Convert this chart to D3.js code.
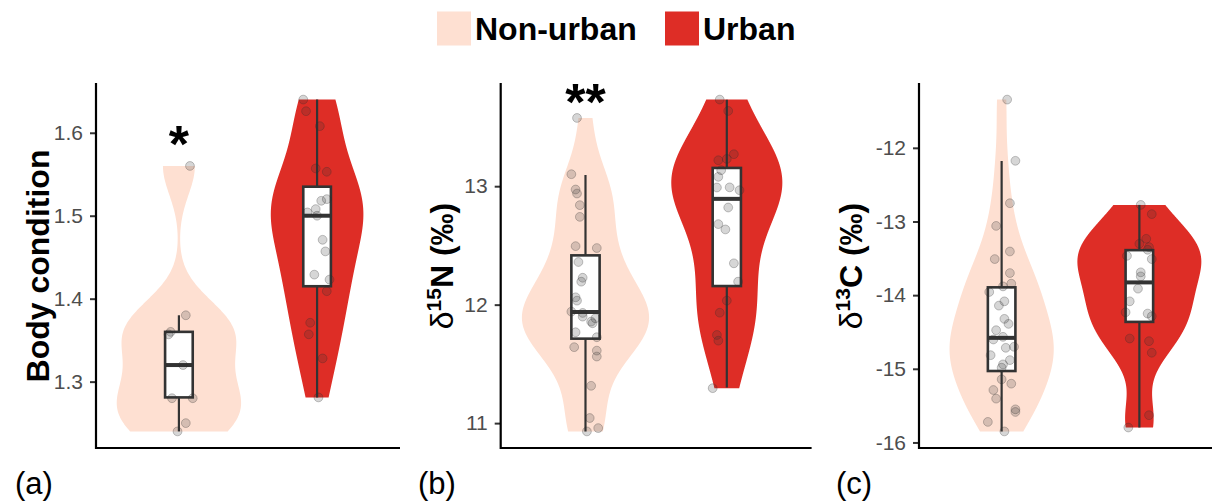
<!DOCTYPE html>
<html>
<head>
<meta charset="utf-8">
<script src="https://cdn.jsdelivr.net/npm/d3@7"></script>
<style>
  body { margin: 0; background: #fff; }
  svg text { font-family: "Liberation Sans", Arial, sans-serif; }
</style>
</head>
<body>
<svg id="chart" width="1212" height="502"></svg>
<script>
const groups = ["Non-urban", "Urban"]
const groupColors = ["#fee0d2", "#de2d26"]

// (a) body condition
const bodyNonUrban = [1.56, 1.38, 1.36, 1.357, 1.32, 1.28, 1.28, 1.25, 1.24]
const bodyNonUrbanJitter = [0.08, 0.05, -0.06, -0.075, 0.03, -0.05, 0.10, 0.05, -0.01]
const bodyUrban = [1.64, 1.626, 1.608, 1.557, 1.553, 1.52, 1.518, 1.508, 1.504, 1.50,
  1.471, 1.457, 1.429, 1.423, 1.409, 1.371, 1.357, 1.328, 1.281]
const bodyUrbanJitter = [-0.10, -0.08, 0.02, -0.01, 0.07, 0.07, 0.03, -0.01, -0.07, 0.0,
  0.04, 0.06, -0.02, 0.09, 0.07, -0.05, -0.06, 0.04, 0.01]
// whisker low, q1, median, q3, whisker high
const bodyBoxNonUrban = [1.24, 1.281, 1.32, 1.36, 1.38]
const bodyBoxUrban = [1.281, 1.415, 1.50, 1.535, 1.64]
const bodyTicks = [1.3, 1.4, 1.5, 1.6]

// (b) delta 15N
const nitroNonUrban = [13.576, 13.101, 12.972, 12.938, 12.84, 12.741, 12.494, 12.478, 12.36, 12.227,
  12.194, 12.062, 12.034, 11.941, 11.93, 11.899, 11.885, 11.857, 11.843, 11.767,
  11.725, 11.641, 11.612, 11.562, 11.315, 11.043, 10.958, 10.93]
const nitroNonUrbanJitter = [-0.06, -0.10, -0.07, -0.06, -0.04, -0.04, -0.07, 0.08, -0.05, -0.02,
  -0.03, -0.07, -0.06, -0.10, -0.02, -0.02, 0.07, 0.04, 0.05, -0.07,
  0.08, -0.08, 0.08, 0.08, 0.04, 0.03, 0.09, 0.01]
const nitroUrban = [13.731, 13.635, 13.27, 13.219, 13.23, 13.135, 13.079, 12.989, 12.99, 12.966,
  12.82, 12.68, 12.635, 12.349, 12.194, 12.034, 11.932, 11.744, 11.696, 11.295]
const nitroUrbanJitter = [-0.05, 0.01, 0.05, -0.06, 0.0, -0.04, -0.06, -0.07, 0.02, 0.09,
  0.01, -0.06, -0.01, 0.05, 0.08, 0.0, -0.05, -0.07, -0.06, -0.10]
const nitroBoxNonUrban = [10.93, 11.713, 11.938, 12.416, 13.095]
const nitroBoxUrban = [11.30, 12.157, 12.893, 13.154, 13.73]
const nitroTicks = [11, 12, 13]

// (c) delta 13C
const carbonNonUrban = [-11.345, -12.176, -12.752, -13.06, -13.407, -13.51, -13.70, -13.844, -13.881, -13.957,
  -14.084, -14.142, -14.322, -14.39, -14.476, -14.602, -14.566, -14.715, -14.701, -14.815,
  -14.882, -14.94, -14.985, -15.143, -15.202, -15.288, -15.405, -15.55, -15.586, -15.721, -15.85]
const carbonNonUrbanJitter = [0.04, 0.10, 0.06, -0.04, 0.06, -0.05, 0.06, 0.07, 0.01, -0.09,
  0.02, -0.02, 0.02, 0.05, -0.04, -0.06, 0.01, 0.03, 0.09, -0.08,
  0.06, 0.01, 0.0, 0.0, 0.07, -0.06, -0.04, 0.10, 0.10, -0.10, 0.02]
const carbonUrban = [-12.775, -12.90, -13.235, -13.303, -13.348, -13.384, -13.466, -13.51, -13.69, -13.745,
  -13.912, -14.084, -14.233, -14.25, -14.287, -14.589, -14.625, -14.782, -15.63, -15.797]
const carbonUrbanJitter = [0.01, 0.09, 0.05, 0.0, 0.07, 0.06, -0.09, 0.09, 0.01, 0.01,
  -0.01, -0.07, -0.10, 0.06, 0.09, -0.07, 0.07, 0.09, 0.07, -0.08]
const carbonBoxNonUrban = [-15.85, -15.03, -14.58, -13.894, -12.18]
const carbonBoxUrban = [-15.797, -14.363, -13.827, -13.389, -12.775]
const carbonTicks = [-16, -15, -14, -13, -12]

const sigLabels = ["*", "**", ""]
const sigValues = [1.60, 13.81, null]
const panelTags = ["(a)", "(b)", "(c)"]

const panels = [
  { left: 96, right: 400, titleX: 37, tagX: 15, title: [{ t: "Body condition", bold: true }],
    values: [bodyNonUrban, bodyUrban], jitter: [bodyNonUrbanJitter, bodyUrbanJitter],
    boxes: [bodyBoxNonUrban, bodyBoxUrban], ticks: bodyTicks, fmt: d3.format(".1f") },
  { left: 500.7, right: 811.6, titleX: 453, tagX: 418,
    title: [{ t: "δ", bold: false }, { t: "15", bold: true, sup: true }, { t: "N (‰)", bold: true }],
    values: [nitroNonUrban, nitroUrban], jitter: [nitroNonUrbanJitter, nitroUrbanJitter],
    boxes: [nitroBoxNonUrban, nitroBoxUrban], ticks: nitroTicks, fmt: d3.format("d") },
  { left: 919, right: 1222, titleX: 862, tagX: 836,
    title: [{ t: "δ", bold: false }, { t: "13", bold: true, sup: true }, { t: "C (‰)", bold: true }],
    values: [carbonNonUrban, carbonUrban], jitter: [carbonNonUrbanJitter, carbonUrbanJitter],
    boxes: [carbonBoxNonUrban, carbonBoxUrban], ticks: carbonTicks, fmt: d => String(d) }
]

const panelTop = 83
const panelBottom = 448

// R's bw.nrd0
function bwNrd0(values) {
  const s = values.slice().sort(d3.ascending)
  const iqr = d3.quantile(s, 0.75) - d3.quantile(s, 0.25)
  const lo = Math.min(d3.deviation(s), iqr / 1.34)
  return 0.9 * lo * Math.pow(s.length, -0.2)
}

function density(values) {
  const bw = bwNrd0(values)
  const [lo, hi] = d3.extent(values)
  return d3.range(512).map(i => {
    const y = lo + (hi - lo) * i / 511
    const d = d3.mean(values, v => Math.exp(-0.5 * ((y - v) / bw) ** 2)) / (bw * Math.sqrt(2 * Math.PI))
    return [y, d]
  })
}

const svg = d3.select("#chart")

panels.forEach((p, pi) => {
  const all = p.values.flat()
  const [mn, mx] = d3.extent(all)
  const pad = (mx - mn) * 0.05
  const y = d3.scaleLinear().domain([mn - pad, mx + pad]).range([panelBottom, panelTop])
  const x = d3.scalePoint().domain(groups).range([p.left, p.right]).padding(0.6)
  const step = x.step()

  const g = svg.append("g")

  // violins, scaled by area across the panel
  const dens = p.values.map(density)
  const maxD = d3.max(dens, ds => d3.max(ds, d => d[1]))
  const area = d3.area()
    .y(d => y(d[0]))
  dens.forEach((ds, gi) => {
    const cx = x(groups[gi])
    const w = d => d[1] / maxD * 0.45 * step
    g.append("path")
      .datum(ds)
      .attr("fill", groupColors[gi])
      .attr("d", area.x0(d => cx - w(d)).x1(d => cx + w(d)))
  })

  // boxplots
  p.boxes.forEach((b, gi) => {
    const cx = x(groups[gi])
    const bw = 0.2 * step
    const bg = g.append("g").attr("stroke", "#333333")
    bg.append("line")
      .attr("x1", cx).attr("x2", cx)
      .attr("y1", y(b[0])).attr("y2", y(b[4]))
      .attr("stroke-width", 2.2)
    bg.append("rect")
      .attr("x", cx - bw / 2).attr("width", bw)
      .attr("y", y(b[3])).attr("height", y(b[1]) - y(b[3]))
      .attr("fill", "#fff")
      .attr("stroke-width", 2.6)
    bg.append("line")
      .attr("x1", cx - bw / 2).attr("x2", cx + bw / 2)
      .attr("y1", y(b[2])).attr("y2", y(b[2]))
      .attr("stroke-width", 4)
  })

  // jittered points
  p.values.forEach((vals, gi) => {
    const cx = x(groups[gi])
    g.append("g")
      .selectAll("circle")
      .data(vals)
      .enter().append("circle")
      .attr("cx", (d, i) => cx + p.jitter[gi][i] * step)
      .attr("cy", d => y(d))
      .attr("r", 4.4)
      .attr("fill", "#303030")
      .attr("fill-opacity", 0.2)
      .attr("stroke", "#303030")
      .attr("stroke-opacity", 0.28)
      .attr("stroke-width", 1)
  })

  // significance stars
  if (sigLabels[pi]) {
    g.append("text")
      .attr("x", x(groups[0]))
      .attr("y", y(sigValues[pi]))
      .attr("dy", "0.57em")
      .attr("text-anchor", "middle")
      .attr("font-size", 52)
      .attr("font-weight", "bold")
      .text(sigLabels[pi])
  }

  // axes
  const yAxis = d3.axisLeft(y)
    .tickValues(p.ticks)
    .tickFormat(p.fmt)
    .tickSize(6)
    .tickSizeOuter(0)
    .tickPadding(7)
  const ax = g.append("g")
    .attr("transform", `translate(${p.left},0)`)
    .call(yAxis)
  ax.select(".domain").remove()
  ax.selectAll(".tick line").attr("stroke", "#333").attr("stroke-width", 2)
  ax.selectAll(".tick text")
    .attr("fill", "#4d4d4d")
    .attr("font-size", 21)
    .style("font-family", '"Liberation Sans", Arial, sans-serif')

  g.append("path")
    .attr("d", `M${p.left},${panelTop}V${panelBottom}H${p.right}`)
    .attr("fill", "none")
    .attr("stroke", "#000")
    .attr("stroke-width", 2.2)

  // y title
  const tt = g.append("text")
    .attr("transform", `translate(${p.titleX},266) rotate(-90)`)
    .attr("text-anchor", "middle")
    .attr("font-size", 32)
  p.title.forEach(part => {
    const ts = tt.append("tspan")
      .attr("font-weight", part.bold ? "bold" : "normal")
      .text(part.t)
    if (part.sup) {
      ts.attr("font-size", 21).attr("dy", -12)
    } else if (part.t !== "δ") {
      ts.attr("dy", 12)
    }
  })

  // panel tag
  svg.append("text")
    .attr("x", p.tagX)
    .attr("y", 494)
    .attr("font-size", 31)
    .text(panelTags[pi])
})

// legend
const legend = svg.append("g")
const legendX = [437, 665]
groups.forEach((name, gi) => {
  legend.append("rect")
    .attr("x", legendX[gi]).attr("y", 11.5)
    .attr("width", 34).attr("height", 34)
    .attr("fill", groupColors[gi])
  legend.append("text")
    .attr("x", legendX[gi] + 38)
    .attr("y", 40)
    .attr("font-size", 32)
    .attr("font-weight", "bold")
    .text(name)
})
</script>
</body>
</html>
